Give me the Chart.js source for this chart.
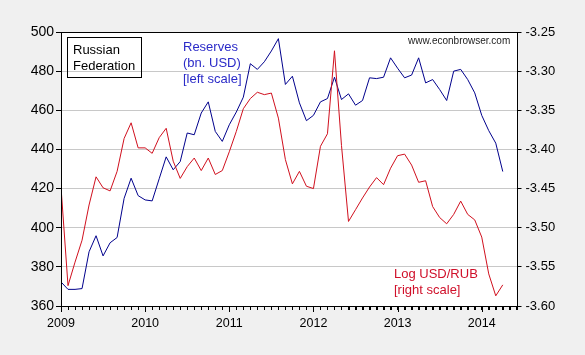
<!DOCTYPE html>
<html><head><meta charset="utf-8">
<script src="https://cdn.jsdelivr.net/npm/chart.js@4/dist/chart.umd.min.js"></script>
<style>html,body{margin:0;padding:0;background:#f0f0f0;}canvas{display:block}</style>
</head><body>
<canvas id="c" width="585" height="355"></canvas>
<script>
// Monthly observations, Jan 2009 - Apr 2014
const months = [
 '2009-01','2009-02','2009-03','2009-04','2009-05','2009-06','2009-07','2009-08','2009-09','2009-10','2009-11','2009-12',
 '2010-01','2010-02','2010-03','2010-04','2010-05','2010-06','2010-07','2010-08','2010-09','2010-10','2010-11','2010-12',
 '2011-01','2011-02','2011-03','2011-04','2011-05','2011-06','2011-07','2011-08','2011-09','2011-10','2011-11','2011-12',
 '2012-01','2012-02','2012-03','2012-04','2012-05','2012-06','2012-07','2012-08','2012-09','2012-10','2012-11','2012-12',
 '2013-01','2013-02','2013-03','2013-04','2013-05','2013-06','2013-07','2013-08','2013-09','2013-10','2013-11','2013-12',
 '2014-01','2014-02','2014-03','2014-04'
];
// Reserves, bn. USD (left scale)
const reserves = [
 372.3,368.5,368.5,368.9,387.7,395.9,385.6,392.3,395.0,415.0,425.3,416.4,
 414.2,413.7,425.0,436.2,429.6,433.8,448.4,447.5,458.6,464.3,449.2,444.1,
 452.6,459.1,466.7,483.8,480.9,484.8,490.3,496.6,473.2,477.4,463.8,454.7,
 457.4,464.3,466.0,476.9,465.5,468.4,462.6,465.0,476.6,476.2,476.9,486.8,
 481.5,476.6,478.0,486.8,474.0,475.7,470.6,465.0,480.0,480.9,475.7,468.9,
 457.4,449.6,443.2,428.7
];
// Log USD/RUB (right scale)
const logUsdRub = [
 -3.448,-3.574,-3.544,-3.516,-3.471,-3.435,-3.449,-3.453,-3.428,-3.386,-3.366,-3.398,
 -3.398,-3.405,-3.385,-3.373,-3.415,-3.437,-3.422,-3.411,-3.427,-3.411,-3.432,-3.427,
 -3.403,-3.377,-3.348,-3.335,-3.327,-3.330,-3.328,-3.360,-3.413,-3.444,-3.428,-3.447,
 -3.450,-3.396,-3.380,-3.274,-3.395,-3.492,-3.477,-3.462,-3.448,-3.436,-3.445,-3.424,
 -3.408,-3.406,-3.420,-3.442,-3.440,-3.473,-3.487,-3.495,-3.483,-3.466,-3.483,-3.490,
 -3.512,-3.559,-3.587,-3.573
];
const yearLabels = ['2009','2010','2011','2012','2013','2014'];
const leftTicks = [360, 380, 400, 420, 440, 460, 480, 500];
const rightTicks = [-3.60, -3.55, -3.50, -3.45, -3.40, -3.35, -3.30, -3.25];
const X_MAX = 65.1; // axis end (months after Jan 2009)

const FONT = "'Liberation Sans', Arial, sans-serif";
function monthIndex(s){ const p = s.split('-'); return (+p[0]-2009)*12 + (+p[1]-1); }
const resPts = months.map((m,i)=>({x: monthIndex(m), y: reserves[i]}));
const rubPts = months.map((m,i)=>({x: monthIndex(m), y: logUsdRub[i]}));

const deco = {
  id: 'deco',
  beforeDraw(chart){
    const {ctx, chartArea:a} = chart;
    ctx.save();
    ctx.fillStyle = '#f0f0f0';
    ctx.fillRect(0,0,chart.width,chart.height);
    ctx.fillStyle = '#ffffff';
    ctx.fillRect(a.left, a.top, a.right-a.left, a.bottom-a.top);
    ctx.restore();
  },
  afterDraw(chart){
    const {ctx, chartArea:a} = chart;
    const xs = chart.scales.x;
    ctx.save();
    ctx.strokeStyle = '#000';
    ctx.lineWidth = 1;
    ctx.strokeRect(Math.round(a.left)+0.5, Math.round(a.top)+0.5, Math.round(a.right-a.left)-1, Math.round(a.bottom-a.top));
    // monthly tick marks, longer at each year
    xs.ticks.forEach(t=>{
      const px = Math.round(xs.getPixelForValue(t.value))+0.5;
      const len = (t.value % 12 === 0) ? 6 : 4;
      ctx.beginPath(); ctx.moveTo(px, a.bottom); ctx.lineTo(px, a.bottom+len); ctx.stroke();
    });
    // annotation box
    ctx.strokeRect(67.5, 37.5, 74, 40);
    ctx.textBaseline = 'middle';
    ctx.textAlign = 'left';
    ctx.fillStyle = '#000';
    ctx.font = '13px ' + FONT;
    ctx.fillText('Russian', 73, 50);
    ctx.fillText('Federation', 73, 66);
    ctx.fillStyle = '#2b2bc8';
    ctx.fillText('Reserves', 183, 47);
    ctx.fillText('(bn. USD)', 183, 63);
    ctx.fillText('[left scale]', 183, 79);
    ctx.fillStyle = '#d0102a';
    ctx.fillText('Log USD/RUB', 394, 274);
    ctx.fillText('[right scale]', 394, 290);
    ctx.fillStyle = '#222';
    ctx.font = '10px ' + FONT;
    ctx.fillText('www.econbrowser.com', 408, 41.5);
    ctx.restore();
  }
};

new Chart(document.getElementById('c'), {
  type: 'line',
  data: {
    datasets: [
      { label: 'Log USD/RUB', data: rubPts, yAxisID: 'y2', borderColor: '#d0101e', borderWidth: 1, pointRadius: 0, tension: 0, fill: false },
      { label: 'Reserves', data: resPts, yAxisID: 'y', borderColor: '#00008c', borderWidth: 1, pointRadius: 0, tension: 0, fill: false }
    ]
  },
  options: {
    responsive: false,
    devicePixelRatio: 1,
    animation: false,
    layout: { padding: { top: 32, left: 0, right: 0, bottom: 0 } },
    plugins: { legend: { display: false }, tooltip: { enabled: false }, title: { display: false } },
    scales: {
      x: {
        type: 'linear', min: 0, max: X_MAX,
        afterFit(s){ s.height = 49; },
        afterBuildTicks(s){
          const t = [];
          for (let v = 0; v <= Math.floor(X_MAX); v++) t.push({value: v});
          s.ticks = t;
        },
        grid: { drawOnChartArea: false, tickLength: 4, tickColor: '#000', color: '#000' },
        border: { display: true, color: '#000' },
        ticks: {
          autoSkip: false, maxRotation: 0, minRotation: 0, padding: 6,
          color: '#000', font: { family: FONT, size: 12.5 },
          callback: (v) => (Number.isInteger(v) && v % 12 === 0) ? yearLabels[v/12] : ''
        }
      },
      y: {
        position: 'left', min: leftTicks[0], max: leftTicks[leftTicks.length-1],
        afterFit(s){ s.width = 61; },
        afterBuildTicks(s){ s.ticks = leftTicks.map(v=>({value:v})); },
        grid: { drawOnChartArea: true, color: '#c8c8c8', tickColor: '#000', tickLength: 5 },
        border: { display: true, color: '#000' },
        ticks: { padding: 2, color: '#000', font: { family: FONT, size: 14 }, callback: v => String(v) }
      },
      y2: {
        position: 'right', min: rightTicks[0], max: rightTicks[rightTicks.length-1],
        afterFit(s){ s.width = 67.5; },
        afterBuildTicks(s){ s.ticks = rightTicks.map(v=>({value:v})); },
        grid: { drawOnChartArea: false, tickColor: '#000', tickLength: 4 },
        border: { display: true, color: '#000' },
        ticks: { padding: 4, color: '#000', font: { family: FONT, size: 13 }, callback: v => Number(v).toFixed(2) }
      }
    }
  },
  plugins: [deco]
});
</script>
</body></html>
